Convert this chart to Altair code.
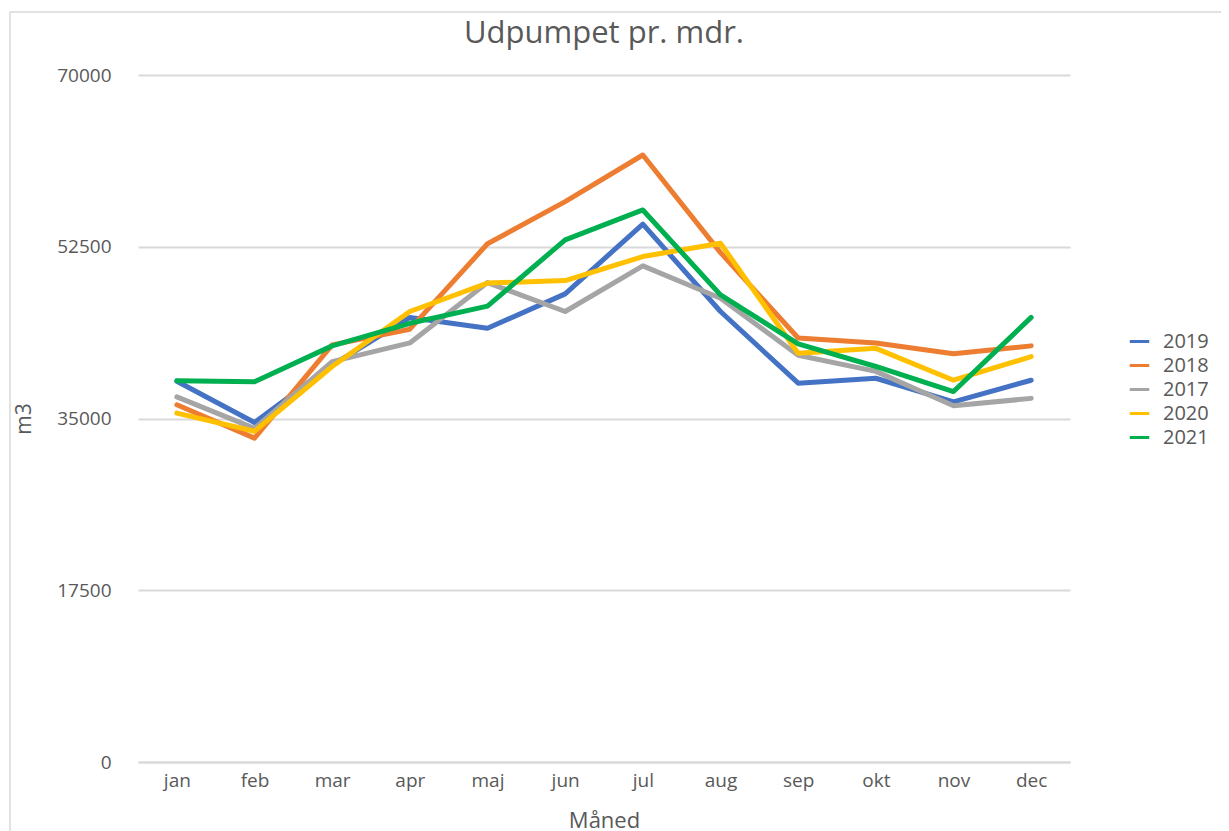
import altair as alt
import pandas as pd

months = ["jan", "feb", "mar", "apr", "maj", "jun", "jul", "aug", "sep", "okt", "nov", "dec"]
years = ["2019", "2018", "2017", "2020", "2021"]
colors = ["#4472C4", "#ED7D31", "#A5A5A5", "#FFC000", "#00B050"]

v2019 = [38800, 34600, 40450, 45300, 44200, 47700, 54800, 45900, 38600, 39100, 36700, 38900]
v2018 = [36400, 33000, 42500, 44100, 52800, 57100, 61850, 51900, 43200, 42700, 41600, 42400]
v2017 = [37200, 34000, 40800, 42700, 48850, 45900, 50550, 47250, 41450, 39800, 36300, 37050]
v2020 = [35550, 33700, 40300, 45900, 48800, 49050, 51500, 52850, 41650, 42150, 38900, 41300]
v2021 = [38850, 38750, 42400, 44700, 46450, 53200, 56250, 47600, 42600, 40300, 37750, 45300]

series = {"2019": v2019, "2018": v2018, "2017": v2017, "2020": v2020, "2021": v2021}
rows = []
for y in years:
    for m, v in zip(months, series[y]):
        rows.append({"Måned": m, "year": y, "m3": v})
df = pd.DataFrame(rows)

FONT = "Open Sans"
GREY = "#595959"

border = alt.Chart(pd.DataFrame({"a": [0]})).mark_rect(
    fill=None, stroke="#d9d9d9", strokeWidth=1.5, clip=False
).encode(
    x=alt.value(-128), x2=alt.value(1300), y=alt.value(-63), y2=alt.value(900)
)

lines = alt.Chart(df).mark_line(strokeWidth=5, strokeCap="round", strokeJoin="round").encode(
    x=alt.X("Måned:N", sort=months, scale=alt.Scale(paddingInner=0, paddingOuter=0.5),
            axis=alt.Axis(title="Måned", labelAngle=0, ticks=False, domain=True,
                          domainColor="#d9d9d9", domainWidth=2, grid=False,
                          labelFontSize=19, labelColor=GREY, labelPadding=9,
                          titleFontSize=22, titleColor=GREY, titleFontWeight="normal",
                          titlePadding=20, labelFont=FONT, titleFont=FONT)),
    y=alt.Y("m3:Q", scale=alt.Scale(domain=[0, 70000], nice=False),
            axis=alt.Axis(title="m3", values=[0, 17500, 35000, 52500, 70000], format="d",
                          ticks=False, domain=False, grid=True, gridColor="#d9d9d9",
                          gridWidth=2, labelFontSize=19, labelColor=GREY, labelPadding=27,
                          titleFontSize=21, titleColor=GREY, titleFontWeight="normal",
                          titlePadding=22, labelFont=FONT, titleFont=FONT)),
    color=alt.Color("year:N", sort=years, scale=alt.Scale(domain=years, range=colors),
                    legend=alt.Legend(title=None, orient="none", legendX=990, legendY=255,
                                      symbolType="stroke", symbolStrokeWidth=3, symbolSize=380,
                                      labelFontSize=20, labelColor=GREY, labelFont=FONT,
                                      rowPadding=2, labelOffset=12)),
    order=alt.Order("year:N")
)

chart = alt.layer(border, lines).properties(
    width=932, height=687,
    title=alt.Title("Udpumpet pr. mdr.", fontSize=31, color=GREY, font=FONT,
                    fontWeight="normal", offset=0, dy=39, anchor="middle"),
    padding={"left": 130, "top": 67, "right": 151, "bottom": 69},
    autosize="none",
).configure_view(stroke=None)

chart.save("out.html", embed_options={"renderer": "svg", "actions": False})
